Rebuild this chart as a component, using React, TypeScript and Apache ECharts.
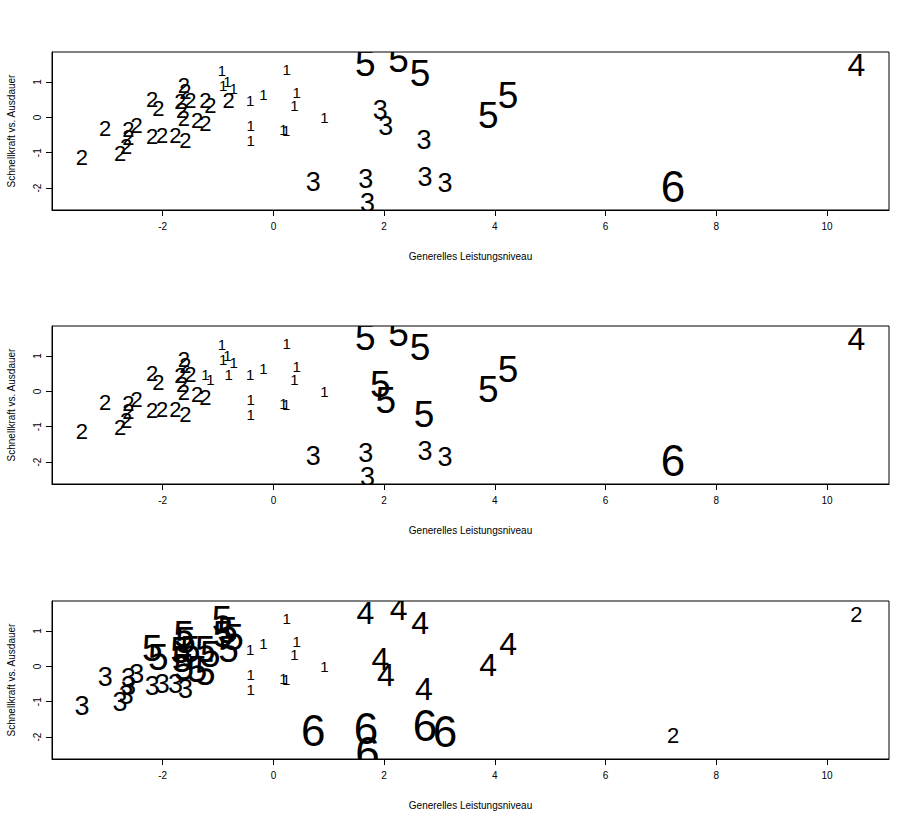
import React, { useEffect, useRef } from "react";
import * as echarts from "echarts";

// point coordinates (same points in every panel)
const xValues = [
  -3.46, -3.04, -2.77, -2.66, -2.62, -2.62, -2.47, -2.19, -2.01, -1.77, -1.59,
  -2.19, -2.08, -1.62, -1.59, -1.68, -1.50, -1.65, -1.62, -1.38, -1.23, -1.23, -1.14, -0.81,
  -0.93, -0.91, -0.83, -0.72, -0.42, -0.18, 0.24, 0.42, 0.38, 0.92, -0.41, -0.41, 0.18, 0.23,
  1.93, 2.03, 2.72,
  0.72, 1.67, 1.70, 2.74, 3.10,
  1.66, 2.26, 2.65, 3.88, 4.24,
  10.53, 7.22,
];
const yValues = [
  -1.13, -0.31, -1.02, -0.81, -0.34, -0.56, -0.22, -0.55, -0.50, -0.50, -0.64,
  0.51, 0.25, 0.91, 0.72, 0.44, 0.49, 0.20, -0.03, -0.08, -0.17, 0.49, 0.34, 0.49,
  1.33, 0.91, 1.02, 0.82, 0.49, 0.65, 1.36, 0.70, 0.34, 0.01, -0.22, -0.64, -0.33, -0.36,
  0.20, -0.25, -0.64,
  -1.82, -1.75, -2.43, -1.68, -1.85,
  1.52, 1.63, 1.24, 0.05, 0.63,
  1.47, -1.95,
];
// cluster labels per panel
const labelsPanel1 = [
  2, 2, 2, 2, 2, 2, 2, 2, 2, 2, 2,
  2, 2, 2, 2, 2, 2, 2, 2, 2, 2, 2, 2, 2,
  1, 1, 1, 1, 1, 1, 1, 1, 1, 1, 1, 1, 1, 1,
  3, 3, 3,
  3, 3, 3, 3, 3,
  5, 5, 5, 5, 5,
  4, 6,
];
const labelsPanel2 = [
  2, 2, 2, 2, 2, 2, 2, 2, 2, 2, 2,
  2, 2, 2, 2, 2, 2, 2, 2, 2, 2, 1, 1, 1,
  1, 1, 1, 1, 1, 1, 1, 1, 1, 1, 1, 1, 1, 1,
  5, 5, 5,
  3, 3, 3, 3, 3,
  5, 5, 5, 5, 5,
  4, 6,
];
const labelsPanel3 = [
  3, 3, 3, 3, 3, 3, 3, 3, 3, 3, 3,
  5, 5, 5, 5, 5, 5, 5, 5, 5, 5, 5, 5, 5,
  5, 5, 5, 5, 1, 1, 1, 1, 1, 1, 1, 1, 1, 1,
  4, 4, 4,
  6, 6, 6, 6, 6,
  4, 4, 4, 4, 4,
  2, 2,
];
const xTicks = [-2, 0, 2, 4, 6, 8, 10];
const yTicks = [-2, -1, 0, 1];
const xTitle = "Generelles Leistungsniveau";
const yTitle = "Schnellkraft vs. Ausdauer";

const FONT = '"Liberation Sans", Arial, sans-serif';
const SIZE_BY_LABEL: Record<number, number> = { 1: 15, 2: 22, 3: 27, 4: 32, 5: 37, 6: 44 };

export default function App() {
  const ref = useRef<HTMLDivElement>(null);
  useEffect(() => {
    if (!ref.current) return;
    const chart = echarts.init(ref.current, undefined, { renderer: "svg" });
    const panels = [labelsPanel1, labelsPanel2, labelsPanel3];
    const tops = [52, 326, 601];
    const grid = tops.map((t) => ({
      left: 52,
      top: t,
      width: 837,
      height: 158,
      show: true,
      borderColor: "#000",
      borderWidth: 1,
      backgroundColor: "transparent",
      containLabel: false,
      outerBoundsMode: "none",
    }));
    const xAxis = tops.map((_, i) => ({
      gridIndex: i,
      type: "value",
      min: -4.0,
      max: 11.12,
      name: xTitle,
      nameLocation: "middle",
      nameGap: 41,
      nameTextStyle: { color: "#000", fontSize: 10, fontFamily: FONT, verticalAlign: "top" },
      axisLine: { show: true, onZero: false, lineStyle: { color: "#000", width: 1 } },
      axisTick: { show: true, customValues: xTicks, length: 6, lineStyle: { color: "#000", width: 1 } },
      axisLabel: { show: true, customValues: xTicks, color: "#000", fontSize: 10, fontFamily: FONT, margin: 11 },
      splitLine: { show: false },
    }));
    const yAxis = tops.map((_, i) => ({
      gridIndex: i,
      type: "value",
      min: -2.62,
      max: 1.85,
      name: yTitle,
      nameLocation: "middle",
      nameGap: 36,
      nameTextStyle: { color: "#000", fontSize: 10, fontFamily: FONT },
      axisLine: { show: true, onZero: false, lineStyle: { color: "#000", width: 1 } },
      axisTick: { show: true, customValues: yTicks, length: 6, lineStyle: { color: "#000", width: 1 } },
      axisLabel: { show: true, customValues: yTicks, rotate: 90, color: "#000", fontSize: 10, fontFamily: FONT, margin: 10 },
      splitLine: { show: false },
    }));
    const series = panels.map((labels, i) => ({
      type: "custom",
      xAxisIndex: i,
      yAxisIndex: i,
      clip: true,
      data: xValues.map((x, j) => [x, yValues[j], labels[j]]),
      renderItem: (params: any, api: any) => {
        const p = api.coord([api.value(0), api.value(1)]);
        const lab = api.value(2);
        return {
          type: "text",
          x: p[0],
          y: p[1],
          style: {
            text: String(lab),
            fill: "#000",
            fontSize: SIZE_BY_LABEL[lab],
            fontFamily: FONT,
            align: "center",
            verticalAlign: "middle",
          },
        };
      },
    }));
    chart.setOption({
      animation: false,
      backgroundColor: "#fff",
      grid,
      xAxis,
      yAxis,
      series,
    } as any);
    return () => chart.dispose();
  }, []);
  return (
    <div
      ref={ref}
      style={{ position: "absolute", left: 0, top: 0, width: 916, height: 824 }}
    />
  );
}
